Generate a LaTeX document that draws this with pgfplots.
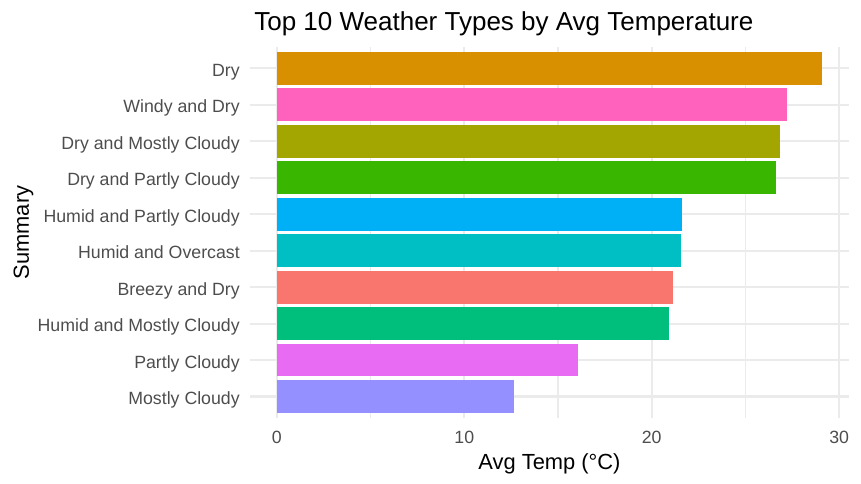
\documentclass[border=0pt]{standalone}
\usepackage{fontspec}
\setmainfont{Liberation Sans}
\usepackage{pgfplots}
\pgfplotsset{compat=1.18}

\definecolor{gridgray}{HTML}{EBEBEB}
\definecolor{ticktext}{HTML}{4D4D4D}
\definecolor{cBreezyDry}{HTML}{F8766D}
\definecolor{cDry}{HTML}{D89000}
\definecolor{cDryMostly}{HTML}{A3A500}
\definecolor{cDryPartly}{HTML}{39B600}
\definecolor{cHumidMostly}{HTML}{00BF7D}
\definecolor{cHumidOvercast}{HTML}{00BFC4}
\definecolor{cHumidPartly}{HTML}{00B0F6}
\definecolor{cMostly}{HTML}{9590FF}
\definecolor{cPartly}{HTML}{E76BF3}
\definecolor{cWindyDry}{HTML}{FF62BC}

\begin{document}
\begin{tikzpicture}
\path[use as bounding box] (-187.2pt,-49.2pt) rectangle (458.55pt,313.8pt);
\begin{axis}[
    name=ax, at={(0,0)}, anchor=south west,
    scale only axis,
    width=449.8pt, height=278.9pt,
    xbar, bar width=0.9, bar shift=0pt,
    xmin=-1.4545, xmax=30.545,
    ymin=0.4, ymax=10.6,
    axis line style={draw=none},
    major tick length=0pt, minor tick length=0pt,
    xtick={0,10,20,30}, minor xtick={5,15,25},
    ytick={1,...,10},
    yticklabels={Mostly Cloudy, Partly Cloudy, Humid and Mostly Cloudy, Breezy and Dry,
        Humid and Overcast, Humid and Partly Cloudy, Dry and Partly Cloudy,
        Dry and Mostly Cloudy, Windy and Dry, Dry},
    xmajorgrids, xminorgrids, ymajorgrids,
    major grid style={color=gridgray, line width=1.6pt},
    minor grid style={color=gridgray, line width=0.8pt},
    tick label style={font=\fontsize{13.3}{16}\selectfont, text=ticktext, inner sep=0pt},
    xticklabel style={anchor=base, yshift=-18.7pt},
    yticklabel style={anchor=base east, xshift=-7.2pt, yshift=-6.1pt},
    /pgf/number format/assume math mode=true,
]
\addplot[fill=cMostly, draw=none] coordinates {(12.65,1)};
\addplot[fill=cPartly, draw=none] coordinates {(16.07,2)};
\addplot[fill=cHumidMostly, draw=none] coordinates {(20.92,3)};
\addplot[fill=cBreezyDry, draw=none] coordinates {(21.13,4)};
\addplot[fill=cHumidOvercast, draw=none] coordinates {(21.56,5)};
\addplot[fill=cHumidPartly, draw=none] coordinates {(21.62,6)};
\addplot[fill=cDryPartly, draw=none] coordinates {(26.63,7)};
\addplot[fill=cDryMostly, draw=none] coordinates {(26.85,8)};
\addplot[fill=cWindyDry, draw=none] coordinates {(27.22,9)};
\addplot[fill=cDry, draw=none] coordinates {(29.09,10)};
\end{axis}
\node[anchor=base west, font=\fontsize{19.5}{23}\selectfont] at ([yshift=11.9pt]ax.north west) {Top 10 Weather Types by Avg Temperature};
\node[anchor=base, font=\fontsize{16.4}{20}\selectfont] at ([yshift=-38.2pt]ax.south) {Avg Temp (°C)};
\node[anchor=base, rotate=90, font=\fontsize{16.4}{20}\selectfont] at ([xshift=-165.5pt]ax.west) {Summary};
\end{tikzpicture}
\end{document}
